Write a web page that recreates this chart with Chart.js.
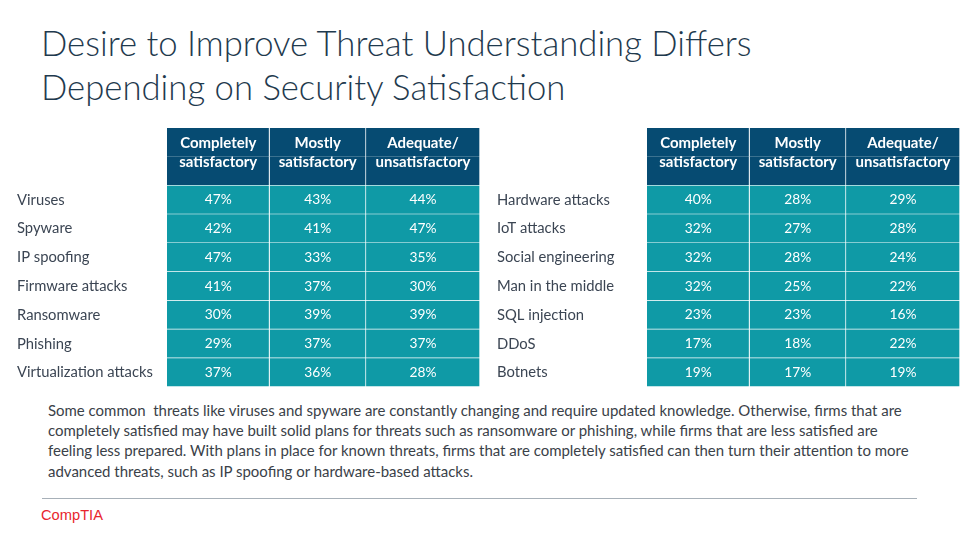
<!DOCTYPE html>
<html>
<head>
<meta charset="utf-8">
<script src="https://cdn.jsdelivr.net/npm/chart.js@4.4.1/dist/chart.umd.min.js"></script>
<style>
  html, body { margin: 0; padding: 0; background: #ffffff; }
  #page { position: relative; width: 960px; height: 540px; overflow: hidden; background: #ffffff; }
  .txt { position: absolute; white-space: nowrap; line-height: 1; margin: 0; }
  .box { position: absolute; }
  #rule { position: absolute; left: 42px; top: 497.5px; width: 875px; height: 1.3px; background: #a7b0b8; }
</style>
</head>
<body>
<div id="page">
  <div id="t1" class="txt">Desire to Improve Threat Understanding Differs</div>
  <div id="t2" class="txt">Depending on Security Satisfaction</div>
  <div class="box" style="left:0px;top:128px;width:480px;height:259px;"><canvas id="leftTable"></canvas></div>
  <div class="box" style="left:480px;top:128px;width:480px;height:259px;"><canvas id="rightTable"></canvas></div>
  <div id="p1" class="txt">Some common&nbsp; threats like viruses and spyware are constantly changing and require updated knowledge. Otherwise, firms that are</div>
  <div id="p2" class="txt">completely satisfied may have built solid plans for threats such as ransomware or phishing, while firms that are less satisfied are</div>
  <div id="p3" class="txt">feeling less prepared. With plans in place for known threats, firms that are completely satisfied can then turn their attention to more</div>
  <div id="p4" class="txt">advanced threats, such as IP spoofing or hardware-based attacks.</div>
  <div id="rule"></div>
  <div id="logo" class="txt">CompTIA</div>
</div>
<script>
// ---------------- data ----------------
const headerLines = [['Completely', 'satisfactory'], ['Mostly', 'satisfactory'], ['Adequate/', 'unsatisfactory']];

const threatsLeft = ['Viruses', 'Spyware', 'IP spoofing', 'Firmware attacks', 'Ransomware', 'Phishing', 'Virtualization attacks'];
const completelyLeft = [47, 42, 47, 41, 30, 29, 37];
const mostlyLeft = [43, 41, 33, 37, 39, 37, 36];
const adequateLeft = [44, 47, 35, 30, 39, 37, 28];

const threatsRight = ['Hardware attacks', 'IoT attacks', 'Social engineering', 'Man in the middle', 'SQL injection', 'DDoS', 'Botnets'];
const completelyRight = [40, 32, 32, 32, 23, 17, 19];
const mostlyRight = [28, 27, 28, 25, 23, 18, 17];
const adequateRight = [29, 28, 24, 22, 16, 22, 19];

// ---------------- layout / style ----------------
const colEdges = [0, 102.5, 199, 313];   // column boundaries along the x scale
const HEADER_ROWS = 2;                   // header spans two row bands
const NAVY = '#064b72';
const TEAL = '#0f9aa6';
const LABEL_COLOR = '#3b4553';
const FONT = 'Lato, "Open Sans", sans-serif';

const meas = document.createElement('canvas').getContext('2d');
function fitSize(text, weight, family, target) {
  meas.font = weight + ' 100px ' + family;
  return 100 * target / meas.measureText(text).width;
}

const labelSize = fitSize('Virtualization attacks', 400, FONT, 136);
const headSize = fitSize('unsatisfactory', 700, FONT, 95);
const cellSize = fitSize('47%', 400, FONT, 27);

// ---------------- html texts ----------------
function place(id, left, baseline, size, color, weight, family) {
  const el = document.getElementById(id);
  el.style.left = left + 'px';
  el.style.fontSize = size + 'px';
  el.style.fontFamily = family;
  el.style.fontWeight = weight;
  el.style.color = color;
  el.style.top = (baseline - 0.887 * size) + 'px';
}
const titleSize = fitSize('Desire to Improve Threat Understanding Differs', 300, FONT, 712);
place('t1', 41, 57, titleSize, '#1f3a4e', 300, FONT);
place('t2', 41, 101, titleSize, '#1f3a4e', 300, FONT);
const paraSize = fitSize(document.getElementById('p1').textContent, 400, FONT, 855);
[['p1', 416], ['p2', 436.3], ['p3', 456.6], ['p4', 477]].forEach(([id, b]) => place(id, 48, b, paraSize, '#3a4148', 400, FONT));
const logoFamily = '"Liberation Sans", Arial, sans-serif';
place('logo', 41, 521, fitSize('CompTIA', 400, logoFamily, 62), '#e8262d', 400, logoFamily);

// ---------------- chart ----------------
const cellTextPlugin = {
  id: 'cellText',
  afterDatasetsDraw(chart, args, opts) {
    const ctx = chart.ctx;
    ctx.save();
    ctx.fillStyle = '#ffffff';
    ctx.textAlign = 'center';
    ctx.textBaseline = 'middle';
    chart.data.datasets.forEach((ds, c) => {
      const els = chart.getDatasetMeta(c).data;
      const h0 = els[0].getProps(['x', 'y', 'base', 'height'], true);
      const h1 = els[HEADER_ROWS - 1].getProps(['x', 'y', 'base', 'height'], true);
      const top = h0.y - h0.height / 2;
      const bottom = h1.y + h1.height / 2;
      const cx = (h0.x + h0.base) / 2;
      ctx.font = '700 ' + headSize + 'px ' + FONT;
      ctx.fillText(headerLines[c][0], cx, top + 0.264 * (bottom - top));
      ctx.fillText(headerLines[c][1], cx, top + 0.591 * (bottom - top));
      ctx.font = '400 ' + cellSize + 'px ' + FONT;
      opts.values[c].forEach((v, r) => {
        const p = els[r + HEADER_ROWS].getProps(['x', 'y', 'base'], true);
        ctx.fillText(v + '%', (p.x + p.base) / 2, p.y);
      });
    });
    ctx.restore();
  }
};

function makeTable(canvasId, threats, seriesList) {
  const rowLabels = Array(HEADER_ROWS).fill('').concat(threats);
  const datasets = seriesList.map((series, c) => ({
    label: headerLines[c].join(' '),
    data: rowLabels.map(() => [colEdges[c], colEdges[c + 1]]),
    backgroundColor: (ctx) => ctx.dataIndex < HEADER_ROWS ? NAVY : TEAL,
    borderColor: '#ffffff',
    borderWidth: (ctx) => ({ top: 0, left: 0, right: 1, bottom: ctx.dataIndex < HEADER_ROWS - 1 ? 0 : 1 }),
    borderSkipped: false,
    grouped: false,
    categoryPercentage: 1,
    barPercentage: 1
  }));
  return new Chart(document.getElementById(canvasId), {
    type: 'bar',
    data: { labels: rowLabels, datasets },
    options: {
      indexAxis: 'y',
      responsive: true,
      maintainAspectRatio: false,
      animation: false,
      events: [],
      layout: { padding: { left: 17, right: 0, top: 0, bottom: 0 } },
      scales: {
        x: { type: 'linear', min: 0, max: colEdges[colEdges.length - 1], display: false, stacked: false },
        y: {
          type: 'category',
          offset: true,
          grid: { display: false, drawTicks: false },
          border: { display: false },
          afterFit: (scale) => { scale.width = 150; scale.paddingTop = 0; scale.paddingBottom = 0; },
          ticks: {
            autoSkip: false,
            crossAlign: 'far',
            padding: 0,
            color: LABEL_COLOR,
            font: { family: FONT, size: labelSize, weight: '400' }
          }
        }
      },
      plugins: {
        legend: { display: false },
        tooltip: { enabled: false },
        title: { display: false },
        cellText: { values: seriesList }
      }
    },
    plugins: [cellTextPlugin]
  });
}

makeTable('leftTable', threatsLeft, [completelyLeft, mostlyLeft, adequateLeft]);
makeTable('rightTable', threatsRight, [completelyRight, mostlyRight, adequateRight]);
</script>
</body>
</html>
